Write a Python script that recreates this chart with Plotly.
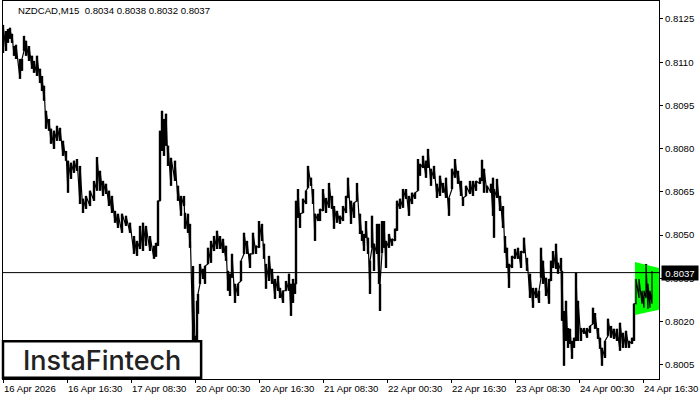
"""NZDCAD M15 chart with bullish flag band, MT4 style."""
import plotly.graph_objects as go

bar_pos = [3,6,8,10,12,14,16,20,22,24,26,29,32,34,37,40,42,44,46,49,51,54,57,60,63,66,68,71,74,77,80,83,86,90,94,97,100,103,106,109,112,115,118,122,126,130,134,137,140,143,146,150,154,156,158,160,162,164,166,168,171,175,178,181,184,185,188,190,193,195,197,198,200,203,205,208,211,214,217,220,223,226,228,230,232,235,238,241,244,247,250,253,256,259,262,264,266,269,272,275,278,280,283,286,289,291,293,295,296,298,300,303,306,308,311,313,315,318,320,323,326,329,332,334,337,340,343,346,348,351,354,357,360,362,364,366,368,370,372,374,377,379,380,382,384,386,389,392,395,397,400,403,406,409,412,415,418,420,423,426,428,431,434,437,440,443,446,449,452,455,458,461,463,466,470,473,476,480,482,484,487,491,493,494,497,500,503,505,507,509,512,515,518,521,524,527,530,533,536,539,541,543,546,549,551,553,556,558,561,562,564,566,568,570,572,574,576,578,581,584,587,590,593,595,598,600,602,605,608,611,614,617,620,623,626,629,632,634,636,639,642,644,646,648,650,652]

bar_high = [.81229,.81208,.81215,.81219,.81198,.81156,.81160,.81111,.81111,.81191,.81174,.81156,.81122,.81104,.81122,.81077,.81052,.81018,.80931,.80903,.80869,.80862,.80879,.80872,.80827,.80792,.80758,.80751,.80758,.80764,.80740,.80626,.80636,.80654,.80688,.80771,.80723,.80688,.80678,.80654,.80636,.80584,.80574,.80574,.80567,.80543,.80497,.80480,.80532,.80543,.80532,.80497,.80463,.80473,.80619,.80862,.80931,.80903,.80921,.80810,.80768,.80758,.80671,.80636,.80636,.80577,.80574,.80539,.80393,.80151,.80272,.80296,.80400,.80383,.80393,.80456,.80480,.80497,.80515,.80497,.80487,.80463,.80376,.80366,.80435,.80331,.80331,.80411,.80508,.80480,.80435,.80508,.80463,.80549,.80539,.80470,.80400,.80428,.80383,.80348,.80359,.80317,.80307,.80341,.80366,.80331,.80348,.80331,.80619,.80660,.80574,.80626,.80654,.80740,.80699,.80660,.80574,.80574,.80591,.80660,.80629,.80681,.80636,.80601,.80584,.80567,.80601,.80636,.80699,.80619,.80612,.80681,.80574,.80515,.80504,.80549,.80491,.80411,.80567,.80470,.80539,.80539,.80331,.80549,.80549,.80480,.80504,.80487,.80522,.80619,.80626,.80660,.80660,.80636,.80647,.80647,.80764,.80747,.80775,.80758,.80799,.80730,.80740,.80678,.80706,.80681,.80699,.80629,.80730,.80764,.80723,.80688,.80629,.80671,.80688,.80688,.80688,.80699,.80761,.80730,.80671,.80678,.80699,.80660,.80695,.80636,.80601,.80497,.80456,.80400,.80428,.80452,.80456,.80445,.80491,.80421,.80366,.80317,.80317,.80307,.80456,.80411,.80352,.80348,.80411,.80445,.80470,.80404,.80421,.80376,.80237,.80272,.80178,.80175,.80133,.80144,.80369,.80272,.80178,.80178,.80178,.80185,.80248,.80230,.80178,.80144,.80109,.80133,.80210,.80185,.80175,.80175,.80196,.80161,.80168,.80133,.80144,.80262,.80348,.80348,.80307,.80307,.80400,.80331,.80307,.80376]

bar_low = [.81132,.81139,.81167,.81181,.81167,.81122,.81111,.81042,.81070,.81139,.81122,.81104,.81077,.81063,.81052,.81028,.81000,.80966,.80869,.80862,.80817,.80799,.80827,.80827,.80775,.80758,.80647,.80695,.80716,.80723,.80608,.80577,.80591,.80601,.80619,.80654,.80654,.80636,.80643,.80601,.80577,.80543,.80525,.80508,.80532,.80508,.80435,.80428,.80452,.80445,.80463,.80445,.80418,.80425,.80463,.80619,.80792,.80775,.80810,.80740,.80671,.80688,.80619,.80567,.80601,.80522,.80508,.80456,.80133,.80116,.80116,.80227,.80331,.80348,.80331,.80400,.80404,.80445,.80452,.80452,.80438,.80411,.80307,.80289,.80352,.80265,.80289,.80341,.80435,.80435,.80386,.80435,.80435,.80456,.80480,.80418,.80314,.80341,.80331,.80279,.80307,.80282,.80265,.80307,.80307,.80220,.80265,.80296,.80331,.80560,.80525,.80577,.80608,.80664,.80671,.80608,.80480,.80549,.80549,.80584,.80577,.80595,.80591,.80522,.80543,.80539,.80549,.80577,.80629,.80539,.80560,.80619,.80504,.80480,.80445,.80491,.80435,.80296,.80456,.80376,.80435,.80331,.80237,.80438,.80456,.80386,.80456,.80463,.80480,.80515,.80591,.80595,.80626,.80567,.80608,.80626,.80654,.80706,.80733,.80699,.80733,.80671,.80695,.80629,.80636,.80647,.80629,.80567,.80660,.80699,.80678,.80636,.80601,.80636,.80643,.80636,.80654,.80678,.80688,.80647,.80647,.80647,.80567,.80491,.80629,.80584,.80525,.80438,.80386,.80317,.80386,.80418,.80418,.80386,.80438,.80376,.80282,.80248,.80282,.80265,.80352,.80331,.80289,.80262,.80341,.80386,.80383,.80366,.80376,.80203,.80047,.80133,.80109,.80123,.80071,.80109,.80133,.80133,.80133,.80158,.80144,.80161,.80192,.80175,.80140,.80106,.80047,.80074,.80151,.80144,.80140,.80133,.80099,.80109,.80109,.80109,.80123,.80133,.80262,.80282,.80262,.80248,.80282,.80244,.80248,.80262]

band_pos = [635, 659]
band_top = [.80407, .80386]
band_bottom = [.80223, .80241]

last_price = 0.8037
price_ticks = [0.8125, 0.8110, 0.8095, 0.8080, 0.8065, 0.8050, 0.8035, 0.8020, 0.8005]
time_ticks = [3, 67, 131, 195, 259, 323, 387, 451, 515, 579, 643]
time_labels = ["16 Apr 2026", "16 Apr 16:30", "17 Apr 08:30", "20 Apr 00:30", "20 Apr 16:30",
               "21 Apr 08:30", "22 Apr 00:30", "22 Apr 16:30", "23 Apr 08:30", "24 Apr 00:30", "24 Apr 16:30"]
FONT = "Liberation Sans"
TEXT_SIZE = 9.6

# each bar becomes a low->high stroke, joined to the next one
line_x, line_y = [], []
for pos, high, low in zip(bar_pos, bar_high, bar_low):
    line_x += [pos, pos]
    line_y += [low, high]

fig = go.Figure()
fig.add_trace(go.Scatter(
    x=band_pos + band_pos[::-1], y=band_top + band_bottom[::-1],
    mode="lines", fill="toself", fillcolor="#00ff00", line=dict(color="#00ff00", width=0),
))
fig.add_trace(go.Bar(
    x=bar_pos, base=bar_low, y=[h - l for h, l in zip(bar_high, bar_low)],
    width=2.4, marker=dict(color="#000000", line=dict(width=0)),
))
fig.add_trace(go.Scatter(x=line_x, y=line_y, mode="lines", line=dict(color="#000000", width=1.2, simplify=False)))
fig.add_trace(go.Scatter(
    x=[3, 659], y=[last_price, last_price], mode="lines", line=dict(color="#000000", width=1),
))

fig.update_xaxes(
    range=[3, 659], tickvals=time_ticks, showticklabels=False, ticks="outside", ticklen=3,
    tickcolor="#000000", showgrid=False, zeroline=False,
    showline=True, linecolor="#000000", linewidth=1, mirror=True,
)
fig.update_yaxes(
    range=[0.80001, 0.81312], side="right", tickvals=price_ticks, tickformat=".4f",
    ticks="outside", ticklen=3, tickcolor="#000000", showgrid=False, zeroline=False,
    showline=True, linecolor="#000000", linewidth=1, mirror=True,
    tickfont=dict(family=FONT, size=TEXT_SIZE, color="#000000"),
)

for pos, label in zip(time_ticks, time_labels):
    fig.add_annotation(
        x=pos, y=0, xref="x", yref="paper", yshift=-2, xshift=-1, xanchor="left", yanchor="top",
        text=label, showarrow=False, font=dict(family=FONT, size=TEXT_SIZE, color="#000000"),
    )
fig.add_annotation(
    x=18, y=1, xref="x", yref="paper", yshift=-2, xshift=-2, xanchor="left", yanchor="top",
    text="NZDCAD,M15&nbsp;&nbsp;0.8034 0.8038 0.8032 0.8037", showarrow=False,
    font=dict(family=FONT, size=TEXT_SIZE, color="#000000"),
)
fig.add_annotation(
    x=1, y=last_price, xref="paper", yref="y", xshift=2, xanchor="left", showarrow=False,
    text="0.8037", bgcolor="#000000", borderpad=1, width=34, height=12,
    font=dict(family=FONT, size=TEXT_SIZE, color="#ffffff"),
)

# logo box, bottom left
fig.add_shape(
    type="rect", xref="paper", yref="paper", x0=0.0, x1=0.302, y0=0.003, y1=0.1,
    fillcolor="#ffffff", line=dict(color="#000000", width=2.5),
)
fig.add_annotation(
    x=0.151, y=0.05, xref="paper", yref="paper", xanchor="center", yanchor="middle", showarrow=False,
    text="InstaFintech", font=dict(family="Inter", size=27, color="#222222", weight=500),
)

fig.update_layout(
    width=700, height=400, autosize=False, showlegend=False, hovermode=False,
    margin=dict(l=3, r=41, t=1, b=21, pad=0),
    paper_bgcolor="#ffffff", plot_bgcolor="#ffffff",
)
fig.write_html(
    "out.html", config=dict(displayModeBar=False),
    post_script="document.body.style.margin='0';document.body.style.overflow='hidden';",
)
